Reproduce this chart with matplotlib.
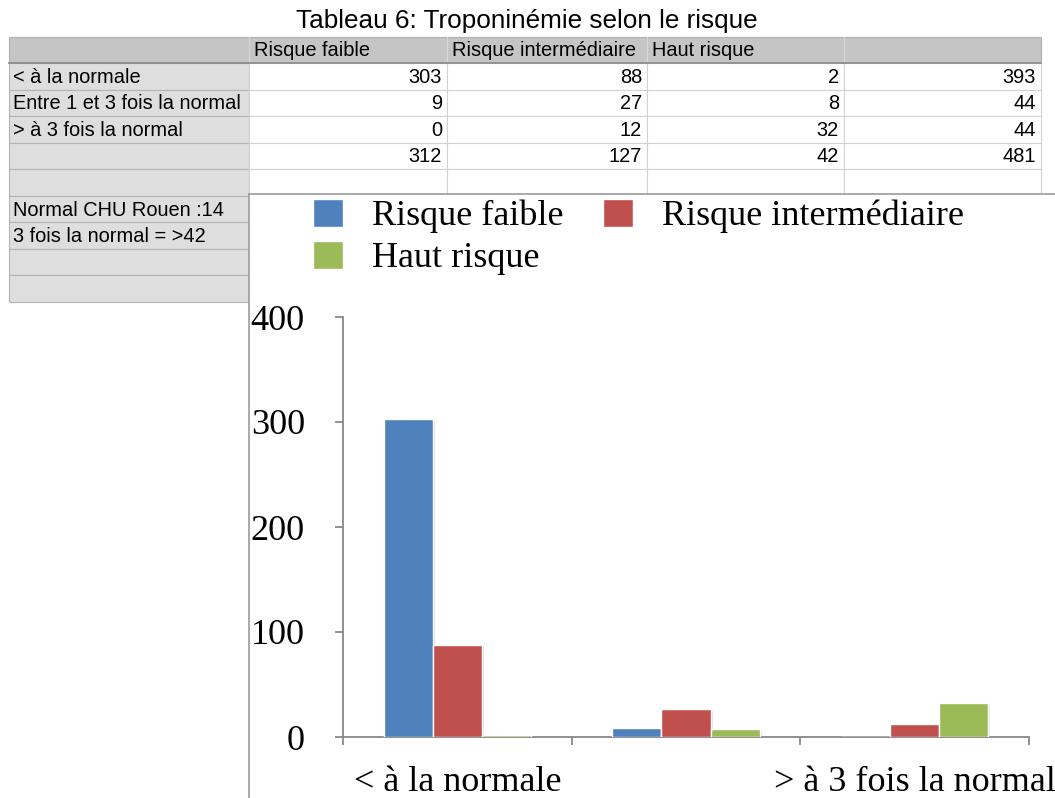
import matplotlib
matplotlib.use("Agg")
import matplotlib.pyplot as plt
from matplotlib.patches import Rectangle, Patch
import matplotlib.patheffects as pe

categories = ["< à la normale", "Entre 1 et 3 fois la normal", "> à 3 fois la normal"]
series_names = ["Risque faible", "Risque intermédiaire", "Haut risque"]
risque_faible = [303, 9, 0]
risque_inter = [88, 27, 12]
haut_risque = [2, 8, 32]
notes = ["Normal CHU Rouen :14", "3 fois la normal = >42"]
yticks = [0, 100, 200, 300, 400]

title = "Tableau 6: Troponinémie selon le risque"

colors = ["#4f81bd", "#c0504d", "#9bbb59"]
W, H = 1055, 798

fig = plt.figure(figsize=(W / 100, H / 100), dpi=100)
fig.patch.set_facecolor("white")

# background layer in pixel coords, used for the spreadsheet part
bg = fig.add_axes([0, 0, 1, 1])
bg.set_xlim(0, W)
bg.set_ylim(H, 0)
bg.axis("off")

sans = "Liberation Sans"
serif = "Liberation Serif"

bg.text(527, 21, title, ha="center", va="center", fontsize=18.8, family=sans)

# ---- table grid
col_x = [9, 249, 447, 647, 844, 1041]
row_y = [37, 63] + [63 + 26.55 * k for k in range(1, 10)]

series = [risque_faible, risque_inter, haut_risque]
row_tot = [sum(v) for v in zip(*series)]
col_tot = [sum(s) for s in series] + [sum(row_tot)]

body = []
for i in range(3):
    body.append([str(s[i]) for s in series] + [str(row_tot[i])])
body.append([str(v) for v in col_tot])
body.append(["", "", "", ""])

labels_col = categories + ["", ""] + notes + ["", ""]

# header row
bg.add_patch(Rectangle((col_x[0], row_y[0]), col_x[-1] - col_x[0], row_y[1] - row_y[0],
                       facecolor="#c4c5c4", edgecolor="#b0b0b0", lw=0.8))
for j, name in enumerate(series_names + [""]):
    x0 = col_x[j + 1]
    bg.plot([x0, x0], [row_y[0], row_y[1]], color="#d8d8d8", lw=0.8)
    bg.text(x0 + 5, (row_y[0] + row_y[1]) / 2 + 1, name, ha="left", va="center",
            fontsize=14.4, family=sans)

# label column
for r, lab in enumerate(labels_col):
    y0, y1 = row_y[r + 1], row_y[r + 2]
    bg.add_patch(Rectangle((col_x[0], y0), col_x[1] - col_x[0], y1 - y0,
                           facecolor="#dedede", edgecolor="#b4b4b4", lw=0.8))
    bg.text(col_x[0] + 4, (y0 + y1) / 2 + 1, lab, ha="left", va="center",
            fontsize=14.4, family=sans)

# data cells
for r, vals in enumerate(body):
    y0, y1 = row_y[r + 1], row_y[r + 2]
    for j, v in enumerate(vals):
        x0, x1 = col_x[j + 1], col_x[j + 2]
        bg.add_patch(Rectangle((x0, y0), x1 - x0, y1 - y0,
                               facecolor="white", edgecolor="#d2d2d2", lw=0.8))
        bg.text(x1 - 5, (y0 + y1) / 2 + 1, v, ha="right", va="center",
                fontsize=14.4, family=sans)

bg.plot([col_x[0], col_x[-1]], [row_y[1], row_y[1]], color="#8e8e8e", lw=1.3)

# chart panel laid over the sheet
bg.add_patch(Rectangle((249, 194), W - 249, H - 194, facecolor="white",
                       edgecolor="none", zorder=5))
bg.plot([249, W], [194, 194], color="#a2a2a2", lw=1.3, zorder=6)
bg.plot([249, 249], [194, H], color="#a2a2a2", lw=1.3, zorder=6)

# ---- bar chart
ax = fig.add_axes([343 / W, 1 - 737 / H, 686 / W, 420 / H])
ax.set_facecolor("none")
bw = 0.215
for k, (vals, c) in enumerate(zip(series, colors)):
    pos = [i + (k - 1) * bw for i in range(len(categories))]
    b = ax.bar(pos, vals, width=bw, color=c, edgecolor="white", linewidth=1.0,
               label=series_names[k], zorder=3)
    for p in b:
        p.set_path_effects([pe.SimplePatchShadow(offset=(1.5, -1.5), alpha=0.15),
                            pe.Normal()])

ax.set_xlim(-0.5, len(categories) - 0.5)
ax.set_ylim(0, 400)
for s in ["top", "right"]:
    ax.spines[s].set_visible(False)
for s in ["left", "bottom"]:
    ax.spines[s].set_color("#888888")
    ax.spines[s].set_linewidth(1.3)

ax.set_yticks(yticks)
ax.set_yticklabels([str(t) for t in yticks], family=serif, fontsize=26)
ax.tick_params(axis="y", direction="out", length=6, width=1.3, color="#888888", pad=21.5)

ax.set_xticks([i - 0.5 for i in range(len(categories) + 1)])
ax.set_xticklabels([])
ax.tick_params(axis="x", which="major", direction="out", length=6, width=1.3, color="#888888")
ax.set_xticks(range(len(categories)), minor=True)
# the middle category label is dropped in the original chart (no room)
shown = [c if i != 1 else "" for i, c in enumerate(categories)]
ax.set_xticklabels(shown, minor=True, family=serif, fontsize=26)
ax.tick_params(axis="x", which="minor", length=0, pad=21)

handles = [Patch(facecolor=colors[i], edgecolor="white") for i in range(3)]
order = [0, 2, 1]
leg = fig.legend([handles[i] for i in order], [series_names[i] for i in order],
                 loc="upper left", bbox_to_anchor=(313 / W, 1 - 199 / H), ncol=2,
                 frameon=False, prop={"family": serif, "size": 26},
                 handlelength=0.83, handleheight=0.81, handletextpad=0.8,
                 columnspacing=1.1, labelspacing=0.2, borderpad=0, borderaxespad=0)
leg.set_zorder(10)

fig.savefig("out.png", dpi=100)
